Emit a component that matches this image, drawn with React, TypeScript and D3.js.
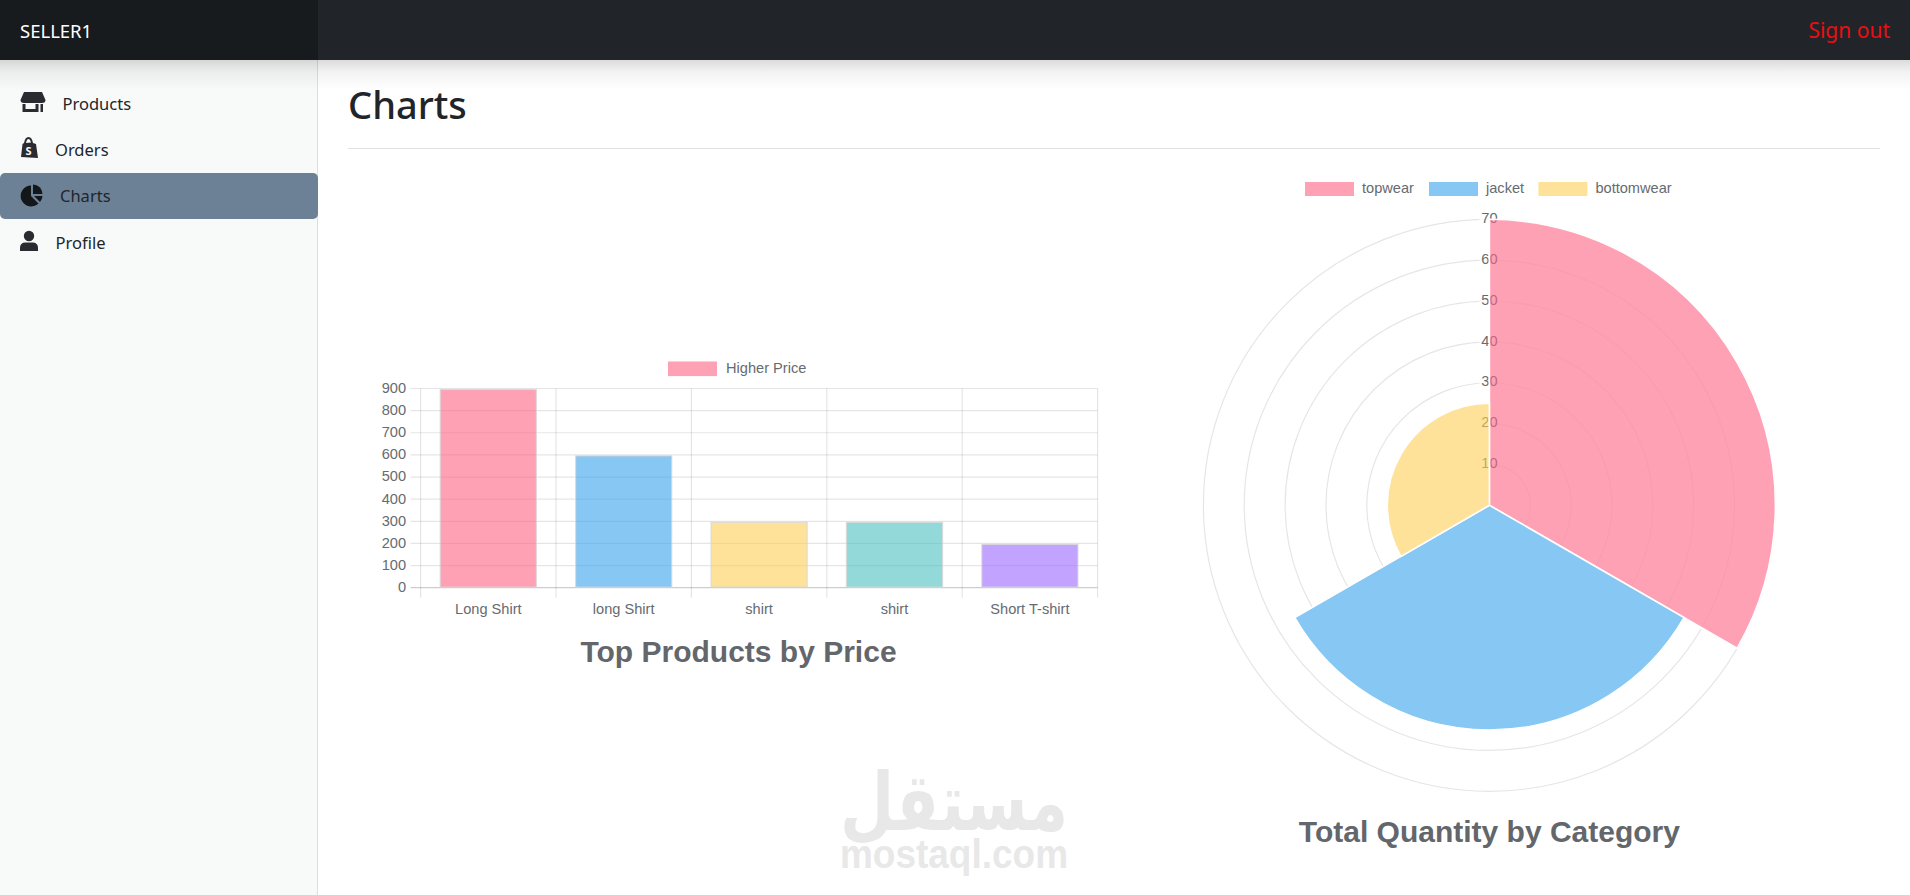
import React, { useEffect, useRef } from "react"
import * as d3 from "d3"

const productNames = ["Long Shirt", "long Shirt", "shirt", "shirt", "Short T-shirt"]
const productPrices = [900, 600, 300, 300, 200]
const priceTicks = [0, 100, 200, 300, 400, 500, 600, 700, 800, 900]

const categoryNames = ["topwear", "jacket", "bottomwear"]
const categoryTotals = [70, 55, 25]
const quantityTicks = [10, 20, 30, 40, 50, 60, 70]

const barColors = ["#ff6384", "#36a2eb", "#ffce56", "#4bc0c0", "#9966ff"]

const sideItems = ["Products", "Orders", "Charts", "Profile"]

const chartFont = "'Liberation Sans', Arial, sans-serif"
const uiFont = "'Noto Sans', 'Open Sans', sans-serif"
const tickColor = "#666b70"

function drawBars(root: d3.Selection<SVGGElement, unknown, null, undefined>) {
    const left = 420.6, right = 1097.6, top = 388.5, bottom = 587.7

    const x = d3.scaleBand<number>().domain(productNames.map((_, i) => i)).range([left, right])
    const y = d3.scaleLinear().domain([0, 900]).range([bottom, top])

    // horizontal grid, the tick stubs are part of the same line
    root.append("g").selectAll("line").data(priceTicks).join("line")
        .attr("x1", left - 10).attr("x2", right)
        .attr("y1", d => y(d)).attr("y2", d => y(d))
        .attr("stroke", "rgba(0,0,0,0.1)").attr("stroke-width", 1.2)

    const edges = [...x.domain().map(i => x(i) as number), right]
    root.append("g").selectAll("line").data(edges).join("line")
        .attr("x1", d => d).attr("x2", d => d)
        .attr("y1", top).attr("y2", bottom + 10)
        .attr("stroke", "rgba(0,0,0,0.1)").attr("stroke-width", 1.2)

    root.append("line")
        .attr("x1", left - 10).attr("x2", right).attr("y1", bottom).attr("y2", bottom)
        .attr("stroke", "rgba(0,0,0,0.1)").attr("stroke-width", 1.2)

    root.append("g").selectAll("text").data(priceTicks).join("text")
        .attr("x", left - 14.5).attr("y", d => y(d) - 0.8).attr("dy", "0.36em")
        .attr("text-anchor", "end")
        .attr("font-size", 14.6).attr("fill", tickColor).attr("font-family", chartFont)
        .text(d => d)

    const barWidth = x.bandwidth() * 0.71
    root.append("g").selectAll("rect").data(productPrices).join("rect")
        .attr("x", (_, i) => (x(i) as number) + (x.bandwidth() - barWidth) / 2)
        .attr("width", barWidth)
        .attr("y", d => y(d) + 1)
        .attr("height", d => bottom - y(d) - 1.6)
        .attr("fill", (_, i) => barColors[i]).attr("fill-opacity", 0.6)
        .attr("stroke", "rgba(215,215,215,0.8)").attr("stroke-width", 1.2)

    root.append("g").selectAll("text").data(productNames).join("text")
        .attr("x", (_, i) => (x(i) as number) + x.bandwidth() / 2)
        .attr("y", 614)
        .attr("text-anchor", "middle")
        .attr("font-size", 14.6).attr("fill", tickColor).attr("font-family", chartFont)
        .text(d => d)

    // legend
    root.append("rect")
        .attr("x", 668).attr("y", 361.5).attr("width", 49).attr("height", 14.6)
        .attr("fill", barColors[0]).attr("fill-opacity", 0.6)
    root.append("text")
        .attr("x", 726).attr("y", 373)
        .attr("font-size", 14.6).attr("fill", tickColor).attr("font-family", chartFont)
        .text("Higher Price")

    root.append("text")
        .attr("x", 738.5).attr("y", 662)
        .attr("text-anchor", "middle")
        .attr("font-size", 30).attr("font-weight", 700).attr("fill", "#63666a").attr("font-family", chartFont)
        .text("Top Products by Price")
}

function drawPolar(root: d3.Selection<SVGGElement, unknown, null, undefined>) {
    const cx = 1489.4, cy = 505.3, outer = 286

    const r = d3.scaleLinear().domain([0, 70]).range([0, outer])
    const g = root.append("g").attr("transform", `translate(${cx},${cy})`)

    g.append("g").selectAll("circle").data(quantityTicks).join("circle")
        .attr("r", d => r(d))
        .attr("fill", "none").attr("stroke", "rgba(0,0,0,0.1)").attr("stroke-width", 1.2)

    const slice = (2 * Math.PI) / categoryTotals.length
    const arc = d3.arc<number>()
        .innerRadius(0)
        .outerRadius(d => r(d))
        .startAngle((_, i) => i * slice)
        .endAngle((_, i) => (i + 1) * slice)

    // the grid is gone under the blue and yellow slices in the picture and
    // only faint under the pink one, so they get a white base
    g.append("g").selectAll("path").data(categoryTotals).join("path")
        .attr("d", (d, i) => arc(d, i) as string)
        .attr("fill", "#fff").attr("fill-opacity", (_, i) => (i === 0 ? 0.55 : 1))

    const labels = g.append("g")
    labels.selectAll("rect").data(quantityTicks).join("rect")
        .attr("x", -10).attr("width", 10)
        .attr("y", d => -r(d) - 8).attr("height", 14)
        .attr("fill", "rgba(255,255,255,0.75)")
    labels.selectAll("text").data(quantityTicks).join("text")
        .attr("y", d => -r(d) - 1.6).attr("dy", "0.36em")
        .attr("text-anchor", "middle")
        .attr("font-size", 14.6).attr("fill", tickColor).attr("font-family", chartFont)
        .text(d => d)

    g.append("g").selectAll("path").data(categoryTotals).join("path")
        .attr("d", (d, i) => arc(d, i) as string)
        .attr("fill", (_, i) => barColors[i]).attr("fill-opacity", 0.6)
        .attr("stroke", "#fff").attr("stroke-width", 1.6)

    // legend
    const boxX = [1305, 1429, 1538.4]
    const legend = root.append("g").selectAll("g").data(categoryNames).join("g")
        .attr("transform", (_, i) => `translate(${boxX[i]},0)`)
    legend.append("rect")
        .attr("y", 182).attr("width", 49).attr("height", 14)
        .attr("fill", (_, i) => barColors[i]).attr("fill-opacity", 0.6)
    legend.append("text")
        .attr("x", 57).attr("y", 193)
        .attr("font-size", 14.6).attr("fill", tickColor).attr("font-family", chartFont)
        .text(d => d)

    root.append("text")
        .attr("x", cx).attr("y", 842)
        .attr("text-anchor", "middle")
        .attr("font-size", 30).attr("font-weight", 700).attr("fill", "#63666a").attr("font-family", chartFont)
        .text("Total Quantity by Category")
}

function SideIcon({ index }: { index: number }) {
    const fill = index === 2 ? "#14171a" : "#2b2a30"
    if (index === 0) {
        return (
            <g fill={fill}>
                <path d="M24 92h18l3.500 8q0 3-3.500 3h-18q-3.500 0-3.500-3z" />
                <path fillRule="evenodd" d="M22.500 104h3v5h10v-5h3v8h-16z" />
                <rect x="40.500" y="104" width="2.500" height="8" />
            </g>
        )
    }
    if (index === 1) {
        return (
            <g fill={fill}>
                <path fillRule="evenodd" d="M24 143q1-6 4.500-6t4.500 6l3 1 2 14-17-1 1.500-13zM26 143l5-.5q-.8-3.500-2.500-3.500t-2.500 4z" />
                <text x="25.500" y="155" fontSize="11" fontWeight="700" fontFamily={uiFont} fill="#f8f9fa">S</text>
            </g>
        )
    }
    if (index === 2) {
        return (
            <g fill={fill}>
                <path d="M31 185.500v10.500l7.500 7.500a10.500 10.500 0 1 1-7.500-18z" />
                <path d="M33 184.500a9.500 9.500 0 0 1 9.500 9.500h-9.500z" />
                <path d="M34 196h8.500a10 10 0 0 1-2.500 6z" />
            </g>
        )
    }
    return (
        <g fill={fill}>
            <circle cx="29" cy="236" r="5.200" />
            <path d="M20 251v-3q0-5.500 5.500-5.500h7q5.500 0 5.500 5.500v3z" />
        </g>
    )
}

function App() {
    const chartsRef = useRef<SVGGElement>(null)

    useEffect(() => {
        if (!chartsRef.current) {
            return
        }
        const root = d3.select(chartsRef.current)
        root.selectAll("*").remove()
        drawBars(root.append("g"))
        drawPolar(root.append("g"))
    }, [])

    const sideX = [62.500, 55, 60, 55.500]
    const sideY = [110, 156, 202, 249]

    return (
        <svg width={1910} height={895} style={{ position: "fixed", left: 0, top: 0, background: "#fff" }}>
            <defs>
                <linearGradient id="navShadow" x1="0" y1="0" x2="0" y2="1">
                    <stop offset="0" stopColor="#000" stopOpacity={0.14} />
                    <stop offset="0.4" stopColor="#000" stopOpacity={0.05} />
                    <stop offset="1" stopColor="#000" stopOpacity={0} />
                </linearGradient>
            </defs>

            {/* sidebar */}
            <rect x={0} y={60} width={318} height={835} fill="#f8fafa" />
            <line x1={317.500} x2={317.500} y1={60} y2={895} stroke="#dcdee0" />
            <rect x={0} y={173} width={318} height={46} rx={5} fill="#6c8196" />
            {sideItems.map((d, i) => (
                <g key={d}>
                    <SideIcon index={i} />
                    <text x={sideX[i]} y={sideY[i]} fontSize={16.500} fontWeight={400} fontFamily={uiFont} fill="#212529">{d}</text>
                </g>
            ))}

            {/* navbar */}
            <rect x={0} y={60} width={1910} height={30} fill="url(#navShadow)" />
            <rect x={0} y={0} width={1910} height={60} fill="#212529" />
            <rect x={0} y={0} width={318} height={60} fill="rgba(0,0,0,0.25)" />
            <text x={20} y={37.500} fontSize={18.500} fontFamily={uiFont} fill="#fff">SELLER1</text>
            <text x={1890} y={37.500} textAnchor="end" fontSize={21} fontFamily={uiFont} fill="#ec0d12">Sign out</text>

            {/* heading */}
            <text x={348} y={119} fontSize={38} fontWeight={500} fontFamily={uiFont} fill="#212529">Charts</text>
            <line x1={348} x2={1880} y1={148.500} y2={148.500} stroke="#dfe1e3" strokeWidth={1.200} />

            {/* watermark */}
            <g fill="#e8e8e8">
                <text x={954} y={830} textAnchor="middle" fontSize={80} fontWeight={700} fontFamily="'DejaVu Sans'" textLength={228} lengthAdjust="spacingAndGlyphs">مستقل</text>
                <text x={954} y={868} textAnchor="middle" fontSize={40} fontWeight={700} fontFamily={chartFont} textLength={228} lengthAdjust="spacingAndGlyphs">mostaql.com</text>
            </g>

            <g ref={chartsRef} />
        </svg>
    )
}

export default App
